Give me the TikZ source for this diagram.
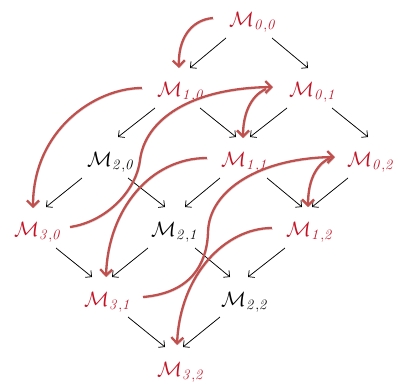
\documentclass[tikz,border=0pt]{standalone}
\usetikzlibrary{arrows.meta,calc}
\DeclareMathSizes{20}{20}{15}{11}
\definecolor{mtext}{RGB}{196,18,36}
\definecolor{mcurve}{RGB}{192,80,77}
\newcommand{\Mlab}[2]{$\mathcal{M}_{\mathit{#1{,}#2}}$}
\tikzset{
  lbl/.style={anchor=base west, inner sep=0pt, font=\fontsize{20}{24}\selectfont},
  redlbl/.style={lbl, text=mtext},
  blklbl/.style={lbl, text=black},
  blk/.style={draw=black, line width=0.75pt, -{Straight Barb[length=4.5pt,width=9pt]}},
  redarr/.style={draw=mcurve, line width=2.3pt, -{Straight Barb[length=6pt,width=12pt]},
    preaction={draw=black, opacity=0.18, transform canvas={shift={(0.9pt,-1.3pt)}}}}
}
\begin{document}
\begin{tikzpicture}[x=1pt,y=-1pt]
\useasboundingbox (0,0) rectangle (393,381);
% nodes
\node[redlbl] (m00) at (229,26) {\Mlab{0}{0}};
\node[redlbl] (m10) at (157,96) {\Mlab{1}{0}};
\node[redlbl] (m01) at (289,96) {\Mlab{0}{1}};
\node[blklbl] (m20) at (87,166) {\Mlab{2}{0}};
\node[redlbl] (m11) at (221,166) {\Mlab{1}{1}};
\node[redlbl] (m02) at (347,166) {\Mlab{0}{2}};
\node[redlbl] (m30) at (14,236) {\Mlab{3}{0}};
\node[blklbl] (m21) at (151,236) {\Mlab{2}{1}};
\node[redlbl] (m12) at (286,236) {\Mlab{1}{2}};
\node[redlbl] (m31) at (84,306) {\Mlab{3}{1}};
\node[blklbl] (m22) at (221,306) {\Mlab{2}{2}};
\node[redlbl] (m32) at (157,376) {\Mlab{3}{2}};
% black arrows
\draw[blk] ($(m00.base west)+(-3,12)$) -- ($(m10.base west)+(33,-28)$);
\draw[blk] ($(m00.base west)+(43,12)$) -- ($(m01.base west)+(19,-28)$);
\draw[blk] ($(m10.base west)+(-2,12)$) -- ($(m20.base west)+(31,-29)$);
\draw[blk] ($(m10.base west)+(43,12)$) -- ($(m11.base west)+(15,-29)$);
\draw[blk] ($(m01.base west)+(-2,12)$) -- ($(m11.base west)+(29,-29)$);
\draw[blk] ($(m01.base west)+(43,12)$) -- ($(m02.base west)+(21,-29)$);
\draw[blk] ($(m20.base west)+(-5,12)$) -- ($(m30.base west)+(32,-29)$);
\draw[blk] ($(m20.base west)+(41,12)$) -- ($(m21.base west)+(14,-29)$);
\draw[blk] ($(m11.base west)+(-1,12)$) -- ($(m21.base west)+(34,-29)$);
\draw[blk] ($(m11.base west)+(46,12)$) -- ($(m12.base west)+(16,-29)$);
\draw[blk] ($(m02.base west)+(1,12)$) -- ($(m12.base west)+(26,-29)$);
\draw[blk] ($(m30.base west)+(42,12)$) -- ($(m31.base west)+(8,-29)$);
\draw[blk] ($(m21.base west)+(-3,12)$) -- ($(m31.base west)+(28,-29)$);
\draw[blk] ($(m21.base west)+(44,12)$) -- ($(m22.base west)+(9,-29)$);
\draw[blk] ($(m12.base west)+(-1,12)$) -- ($(m22.base west)+(27,-29)$);
\draw[blk] ($(m31.base west)+(44,11)$) -- ($(m32.base west)+(8,-29)$);
\draw[blk] ($(m22.base west)+(-1,11)$) -- ($(m32.base west)+(26,-29)$);
% red curved arrows
\draw[redarr] ($(m00.base west)+(-16,-8)$) .. controls (190,20) and (178,40) .. ($(m10.base west)+(22,-28)$);
\draw[redarr] ($(m10.base west)+(-15,-8)$) .. controls (95,88) and (33,130) .. ($(m30.base west)+(19,-28)$);
\draw[redarr] ($(m30.base west)+(56,-9)$) .. controls (105,222) and (136,192) .. (140,160)
   .. controls (145,120) and (190,88) .. ($(m01.base west)+(-16,-9)$);
\draw[redarr] ($(m01.base west)+(-23,-7)$) .. controls (250,96) and (243,115) .. ($(m11.base west)+(22,-28)$);
\draw[redarr] ($(m11.base west)+(-14,-8)$) .. controls (150,158) and (108,210) .. ($(m31.base west)+(22,-29)$);
\draw[redarr] ($(m31.base west)+(59,-9)$) .. controls (190,293) and (207,265) .. (208,232)
   .. controls (209,190) and (260,158) .. ($(m02.base west)+(-12,-9)$);
\draw[redarr] ($(m02.base west)+(-17,-8)$) .. controls (315,165) and (308,182) .. ($(m12.base west)+(22,-29)$);
\draw[redarr] ($(m12.base west)+(-14,-8)$) .. controls (225,228) and (180,275) .. ($(m32.base west)+(20,-31)$);
\end{tikzpicture}
\end{document}
